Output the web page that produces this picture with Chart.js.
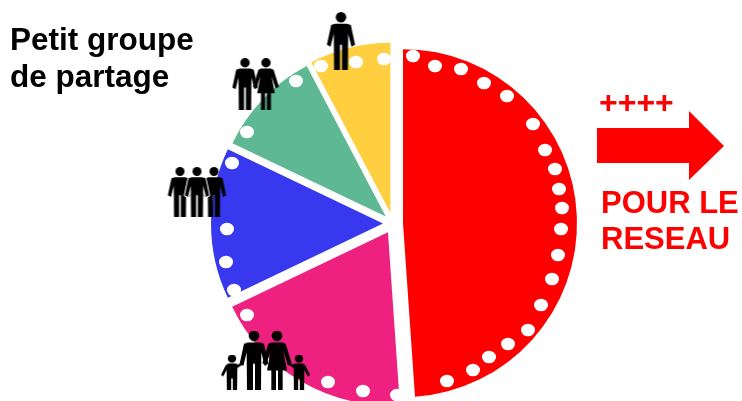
<!DOCTYPE html>
<html><head><meta charset="utf-8">
<style>html,body{margin:0;padding:0;background:#fff}#w{position:relative;width:742px;height:401px;overflow:hidden}canvas{display:block}</style>
<script src="https://cdn.jsdelivr.net/npm/chart.js@4"></script>
</head><body><div id="w"><canvas id="c" width="742" height="401"></canvas></div>
<script>
const categories = ['Pour le réseau', 'Famille', 'Groupe de trois', 'Couple', 'Seul'];
const shares = [48.9, 19.0, 14.2, 10.2, 7.7];
const colors = ['#ff0000', '#ee2080', '#3838ee', '#5eb894', '#ffcf40'];
const explode = [10, 10, 10, 10, 11];
const radii = [174, 172.7, 172, 170, 170];
const dotX = [321,356,384,296,247,232,227,226,234,247,328,363,397,413,435,461,484,507,533,545,555,559,562,561,558,552,541,528,508,489,473,447];
const dotY = [66,62,59,81,132,163,229,262,290,315,382,391,395,56,66,69,83,96,124,150,169,189,208,229,255,279,305,330,344,357,370,381];
const peopleKind = ['man','man','woman','man','man','front','man','woman','kidL','kidR'];
const peopleX = [341,245,266,180,214,197,254,277,232,299];
const peopleY = [41,84,84,192,192,192,360,360,372,372];
const peopleH = [58,52,52,50,50,50,59,59,35,35];
const titleLines = ['Petit groupe','de partage'];
const arrowLines = ['POUR LE','RESEAU'];

function poly(g,s,p){g.beginPath();p.forEach(a=>g.lineTo(a[0]*s,a[1]*s));g.closePath();g.fill();}
function head(g,s,r){g.beginPath();g.arc(0,r*s,r*s,0,7);g.fill();}
const manPts=[[-18,36],[18,36],[30,40],[43,100],[32,106],[22,66],[21,177],[3,177],[3,100],[-3,100],[-3,177],[-21,177],[-22,66],[-32,106],[-43,100],[-30,40]];
function man(g,s){head(g,s,16);poly(g,s,manPts);}
function front(g,s){
  g.save();g.strokeStyle='#fff';g.lineWidth=2;g.lineJoin='round';
  g.beginPath();manPts.forEach(a=>g.lineTo(a[0]*s,a[1]*s));g.closePath();g.stroke();g.restore();
  man(g,s);
}
function woman(g,s){
  head(g,s,16);
  poly(g,s,[[-16,36],[16,36],[26,40],[44,98],[33,104],[19,62],[30,120],[17,120],[17,177],[3,177],[3,120],[-3,120],[-3,177],[-17,177],[-17,120],[-30,120],[-19,62],[-33,104],[-44,98],[-26,40]]);
}
function kidL(g,s){
  head(g,s,21);
  poly(g,s,[[-18,46],[18,46],[30,50],[58,36],[62,46],[27,68],[26,177],[4,177],[4,122],[-4,122],[-4,177],[-26,177],[-27,78],[-44,110],[-56,104],[-32,54]]);
}
function kidR(g,s){g.scale(-1,1);kidL(g,s);}
const shapes={man,woman,front,kidL,kidR};
function figure(fn,h){
  const s=h/177,c=document.createElement('canvas');
  c.width=Math.ceil(130*s)+4;c.height=Math.ceil(h);
  const g=c.getContext('2d');g.fillStyle='#000';g.translate(c.width/2,0);fn(g,s);return c;
}
function dotImg(){
  const c=document.createElement('canvas');c.width=16;c.height=14;
  const g=c.getContext('2d');g.fillStyle='#fff';g.beginPath();g.ellipse(8,7,7,6.3,0,0,7);g.fill();return c;
}
const styleFor=(k,i)=>figure(shapes[k],peopleH[i]);

const explodePlugin={id:'explodeSlices',afterDatasetUpdate(ch,args){
  if(args.index!==0)return;
  ch.getDatasetMeta(0).data.forEach((arc,i)=>{
    const mid=(arc.startAngle+arc.endAngle)/2;
    arc.x+=Math.cos(mid)*explode[i];
    arc.y+=Math.sin(mid)*explode[i];
    arc.outerRadius=radii[i];
  });
}};
const overlay={id:'overlay',afterDraw(ch){
  const g=ch.ctx;g.save();
  g.fillStyle='#000';g.font='bold 31.5px "Liberation Sans"';g.textBaseline='alphabetic';
  g.fillText(titleLines[0],10,50);g.fillText(titleLines[1],10,87);
  g.fillStyle='#ff0000';
  g.beginPath();[[597,128],[689,128],[689,111],[724,146],[689,180],[689,163],[597,163]].forEach(a=>g.lineTo(a[0],a[1]));g.closePath();g.fill();
  g.font='bold 31px "Liberation Sans"';
  g.fillText(arrowLines[0],601,213);g.fillText(arrowLines[1],601,248.5);
  g.font='bold 32px "Liberation Sans"';
  g.fillText('++++',599,113);
  g.restore();
}};
new Chart(document.getElementById('c'),{
  type:'scatter',
  data:{labels:categories,datasets:[
    {type:'pie',order:2,data:shares,backgroundColor:colors,borderWidth:0,radius:171,clip:false},
    {type:'scatter',label:'people',order:0,weight:0,data:peopleX.map((x,i)=>({x,y:peopleY[i]})),pointStyle:peopleKind.map(styleFor),pointRadius:10,clip:false},
    {type:'scatter',label:'dots',order:1,weight:0,data:dotX.map((x,i)=>({x,y:dotY[i]})),pointStyle:dotImg(),pointRadius:7,clip:false}
  ]},
  options:{responsive:false,animation:false,rotation:0,
    layout:{autoPadding:false,padding:{left:44,top:46,right:0,bottom:0}},
    scales:{x:{type:'linear',display:false,min:44,max:742},y:{type:'linear',display:false,min:46,max:401,reverse:true}},
    plugins:{legend:{display:false},tooltip:{enabled:false},title:{display:false}}},
  plugins:[explodePlugin,overlay]
});
</script></body></html>
